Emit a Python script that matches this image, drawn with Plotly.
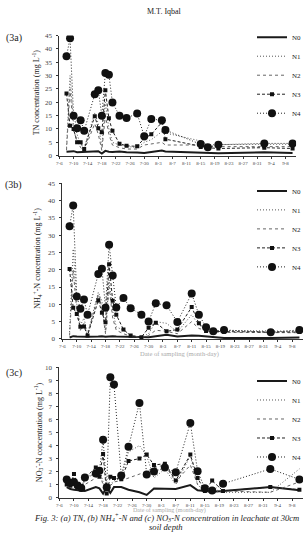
import plotly.graph_objects as go

# ---------------- data ----------------
SERIES = ["N0", "N1", "N2", "N3", "N4"]

TICK_DATES = ["2009-07-06", "2009-07-10", "2009-07-14", "2009-07-18", "2009-07-22",
              "2009-07-26", "2009-07-30", "2009-08-03", "2009-08-07", "2009-08-11",
              "2009-08-15", "2009-08-19", "2009-08-23", "2009-08-27", "2009-08-31",
              "2009-09-04", "2009-09-08"]
TICK_LABELS = ["7-6", "7-10", "7-14", "7-18", "7-22", "7-26", "7-30", "8-3", "8-7",
               "8-11", "8-15", "8-19", "8-23", "8-27", "8-31", "9-4", "9-8"]

# (3a) TN
DATES_A = ["2009-07-08", "2009-07-09", "2009-07-10", "2009-07-11", "2009-07-12",
           "2009-07-13", "2009-07-16", "2009-07-17", "2009-07-18", "2009-07-19",
           "2009-07-20", "2009-07-21", "2009-07-23", "2009-07-25", "2009-07-28",
           "2009-07-30", "2009-08-01", "2009-08-04", "2009-08-05", "2009-08-15",
           "2009-08-17", "2009-08-20", "2009-09-02", "2009-09-10"]
TN_N0 = [1.5, 1.6, 1.7, 1.3, 1.4, 1.3, 1.6, 1.7, 0.8, 1.8, 1.5, 1.4, 1.6, 1.3, 1.2,
         1.0, 1.4, 1.9, 1.6, 1.3, 1.2, 0.9, 1.3, 1.0]
TN_N1 = [3.0, 30.0, 12.0, 8.0, 4.0, 3.0, 16.0, 12.0, 3.0, 20.0, 10.0, 5.0, 4.0, 3.5,
         3.0, 5.0, 6.0, 9.0, 8.5, 5.5, 4.0, 4.2, 4.2, 4.3]
TN_N2 = [2.0, 25.0, 9.0, 6.0, 3.0, 2.0, 12.0, 8.0, 2.0, 15.0, 8.0, 4.0, 3.0, 2.5,
         2.5, 4.0, 4.5, 5.0, 4.0, 4.0, 3.5, 3.4, 3.4, 3.4]
TN_N3 = [23.3, 11.2, 10.0, 5.0, 5.0, 2.5, 14.8, 10.3, 8.8, 24.5, 14.0, 9.3, 4.5, 3.7,
         3.5, 6.5, 8.0, 12.5, 6.2, 3.3, 3.0, 2.7, 3.0, 2.7]
TN_N4 = [37.2, 44.0, 15.0, 10.3, 13.3, 9.3, 23.0, 24.5, 15.0, 31.0, 30.3, 19.9, 15.0,
         14.1, 15.8, 7.3, 13.7, 13.3, 9.6, 4.4, 3.2, 4.1, 4.6, 4.6]

# (3b) NH4-N and (3c) NO3-N share sampling dates
DATES_BC = ["2009-07-08", "2009-07-09", "2009-07-10", "2009-07-11", "2009-07-12",
            "2009-07-13", "2009-07-16", "2009-07-17", "2009-07-18", "2009-07-19",
            "2009-07-20", "2009-07-21", "2009-07-23", "2009-07-25", "2009-07-28",
            "2009-07-30", "2009-08-01", "2009-08-04", "2009-08-07", "2009-08-11",
            "2009-08-13", "2009-08-15", "2009-08-17", "2009-08-20", "2009-09-02",
            "2009-09-10"]
NH4_N0 = [0.4, 0.8, 0.7, 0.6, 0.7, 0.6, 0.7, 0.8, 0.6, 0.8, 0.8, 0.7, 0.7, 0.6, 0.5,
          0.5, 0.8, 1.2, 0.7, 1.0, 0.9, 0.7, 0.5, 0.3, 0.3, 0.4]
NH4_N1 = [2.0, 26.0, 10.0, 4.0, 6.0, 1.5, 13.5, 11.0, 2.0, 17.0, 8.0, 3.5, 2.5, 1.0,
          0.5, 1.5, 5.0, 4.5, 2.0, 7.0, 4.0, 3.0, 2.5, 2.4, 2.3, 2.2]
NH4_N2 = [1.0, 20.0, 8.0, 2.5, 4.5, 1.0, 13.0, 9.0, 1.5, 15.0, 6.0, 2.5, 1.5, 0.8,
          0.4, 1.0, 2.5, 2.2, 1.5, 5.0, 3.0, 2.5, 2.0, 1.9, 1.8, 1.8]
NH4_N3 = [20.2, 9.0, 7.2, 3.5, 3.6, 1.0, 11.2, 7.6, 4.8, 21.6, 11.0, 7.0, 2.7, 1.0,
          0.5, 3.2, 4.7, 2.2, 2.7, 9.2, 4.5, 2.3, 2.2, 2.1, 2.0, 2.0]
NH4_N4 = [32.6, 38.6, 12.3, 8.7, 11.4, 7.0, 18.8, 20.3, 9.0, 27.2, 18.3, 9.1, 11.8,
          8.9, 7.0, 5.0, 10.3, 9.7, 4.9, 13.1, 7.0, 3.4, 2.2, 2.6, 1.9, 2.6]

NO3_N0 = [0.8, 0.65, 0.6, 0.55, 0.5, 0.5, 0.8, 0.7, 0.3, 0.8, 0.35, 0.8, 0.8, 0.6,
          0.4, 0.2, 0.7, 0.7, 0.65, 0.95, 0.55, 0.5, 0.45, 0.5, 0.8, 0.55]
NO3_N1 = [1.0, 0.8, 1.5, 0.9, 0.6, 1.3, 2.0, 2.2, 1.2, 0.5, 1.0, 1.3, 1.5, 3.5, 4.0,
          3.2, 1.5, 2.2, 1.0, 3.2, 1.0, 0.4, 0.5, 0.4, 0.4, 2.2]
NO3_N2 = [0.9, 0.7, 1.2, 0.8, 0.6, 1.0, 1.5, 1.8, 1.0, 0.5, 0.9, 1.2, 1.3, 1.5, 1.8,
          2.0, 2.3, 2.5, 1.2, 2.5, 1.0, 0.5, 0.6, 0.5, 0.4, 1.2]
NO3_N3 = [1.0, 0.9, 1.8, 1.0, 0.7, 1.5, 2.3, 1.6, 3.35, 0.3, 1.6, 1.5, 1.4, 2.8, 3.0,
          3.3, 2.5, 2.6, 1.3, 3.3, 1.5, 0.5, 1.3, 0.5, 0.8, 0.6]
NO3_N4 = [1.39, 1.14, 1.2, 0.93, 0.73, 1.54, 1.84, 2.05, 4.44, 0.78, 9.24, 8.69, 1.69,
          3.9, 7.27, 1.77, 2.0, 2.3, 1.94, 5.73, 2.02, 0.71, 0.53, 1.06, 2.2, 1.39]

# ---------------- styling ----------------
W, H = 307, 535
FONT = "Liberation Serif"
INK = "#222"

STYLE = {
    "N0": dict(mode="lines", line=dict(color="#1a1a1a", width=2)),
    "N1": dict(mode="lines", line=dict(color="#555", width=1, dash="1px,2px")),
    "N2": dict(mode="lines", line=dict(color="#666", width=1, dash="3px,3px")),
    "N3": dict(mode="lines+markers", line=dict(color="#222", width=1, dash="3px,2px"),
               marker=dict(symbol="square", size=4, color="#111")),
    "N4": dict(mode="lines+markers", line=dict(color="#222", width=1, dash="1px,2px"),
               marker=dict(symbol="circle", size=8, color="#111")),
}

def px_x(p):
    return p / W

def px_y(p):
    return 1 - p / H

panels = [
    dict(dates=DATES_A, vals=[TN_N0, TN_N1, TN_N2, TN_N3, TN_N4], ax="", leg="legend",
         xdom=(57, 296), ydom=(154, 32), yr=45, dt=5, legtop=19),
    dict(dates=DATES_BC, vals=[NH4_N0, NH4_N1, NH4_N2, NH4_N3, NH4_N4], ax="2", leg="legend2",
         xdom=(60, 303), ydom=(340, 182), yr=45, dt=5, legtop=175),
    dict(dates=DATES_BC, vals=[NO3_N0, NO3_N1, NO3_N2, NO3_N3, NO3_N4], ax="3", leg="legend3",
         xdom=(57, 303), ydom=(501, 369), yr=10, dt=1, legtop=368),
]

fig = go.Figure()
layout = dict(
    width=W, height=H, margin=dict(l=0, r=0, t=0, b=0),
    paper_bgcolor="white", plot_bgcolor="white",
    font=dict(family=FONT, color=INK),
    showlegend=True,
)

for p in panels:
    for name, v in zip(SERIES, p["vals"]):
        fig.add_trace(go.Scatter(x=p["dates"], y=v, name=name,
                                 xaxis="x" + p["ax"], yaxis="y" + p["ax"],
                                 legend=p["leg"], **STYLE[name]))
    layout["xaxis" + p["ax"]] = dict(
        domain=[px_x(p["xdom"][0]), px_x(p["xdom"][1])],
        anchor="y" + p["ax"], type="date",
        range=["2009-07-06", "2009-09-11"],
        tickvals=TICK_DATES, ticktext=TICK_LABELS,
        showline=True, linecolor="#333", linewidth=1,
        ticks="outside", ticklen=2, tickcolor="#333",
        tickfont=dict(size=5, family=FONT, color="#444"),
        showgrid=False, zeroline=False,
    )
    layout["yaxis" + p["ax"]] = dict(
        domain=[px_y(p["ydom"][0]), px_y(p["ydom"][1])],
        anchor="x" + p["ax"], range=[0, p["yr"]], dtick=p["dt"],
        showline=True, linecolor="#333", linewidth=1,
        ticks="outside", ticklen=2, tickcolor="#333",
        ticklabelstandoff=3,
        tickfont=dict(size=7, family=FONT, color="#444"),
        showgrid=False, zeroline=False,
    )
    layout[p["leg"]] = dict(
        x=1.0, xanchor="right", y=px_y(p["legtop"]), yanchor="top",
        bgcolor="rgba(0,0,0,0)", borderwidth=0,
        font=dict(size=7, family=FONT, color=INK),
        itemwidth=30, tracegroupgap=0,
    )

annotations = [
    dict(text="M.T. Iqbal", x=px_x(163), y=px_y(8), font=dict(size=8)),
    dict(text="(3a)", x=px_x(11), y=px_y(35), font=dict(size=10)),
    dict(text="(3b)", x=px_x(11), y=px_y(184), font=dict(size=10)),
    dict(text="(3c)", x=px_x(11), y=px_y(375), font=dict(size=10)),
    dict(text="TN concentration (mg L<sup>-1</sup>)", x=px_x(33), y=px_y(90),
         textangle=-90, font=dict(size=8)),
    dict(text="NH<sub>4</sub><sup>+</sup>-N concentration (mg L<sup>-1</sup>)", x=px_x(34),
         y=px_y(258), textangle=-90, font=dict(size=8)),
    dict(text="NO<sub>3</sub><sup>-</sup>-N concentration (mg L<sup>-1</sup>)", x=px_x(36),
         y=px_y(435), textangle=-90, font=dict(size=8)),
    dict(text="Date of sampling (month-day)", x=px_x(178), y=px_y(355),
         font=dict(size=6.5, color="#aaa")),
    dict(text="Date of sampling (month-day)", x=px_x(168), y=px_y(514),
         font=dict(size=6, color="#aaa")),
    dict(text="<i>Fig. 3: (a) TN, (b) NH<sub>4</sub><sup>+</sup>-N and (c) NO<sub>3</sub>-N "
              "concentration in leachate at 30cm</i>",
         x=px_x(29), y=px_y(521), xanchor="left", font=dict(size=8.6)),
    dict(text="<i>soil depth</i>", x=px_x(165), y=px_y(530.5), font=dict(size=8.6)),
]
for a in annotations:
    a.setdefault("xanchor", "center")
    a.update(xref="paper", yref="paper", yanchor="middle", showarrow=False)
layout["annotations"] = annotations

fig.update_layout(**layout)
fig.write_html("out.html")
